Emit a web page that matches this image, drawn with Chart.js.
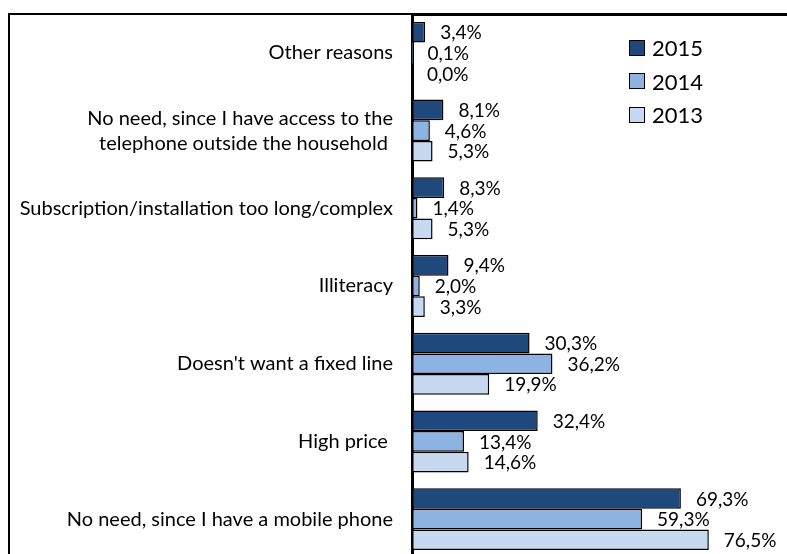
<!DOCTYPE html>
<html lang="en">
<head>
    <meta charset="UTF-8">
    <title>Reasons for not having a fixed telephone line</title>
    <style>
        html, body {
            margin: 0;
            padding: 0;
            width: 787px;
            height: 554px;
            overflow: hidden;
            background: #ffffff;
            font-family: 'Lato', sans-serif;
        }
        #wrap {
            position: relative;
            width: 800px;
            height: 558px;
        }
        #frame {
            position: absolute;
            left: 8px;
            top: 13px;
            width: 900px;
            height: 700px;
            border-left: 2px solid #000;
            border-top: 2px solid #000;
            box-sizing: border-box;
            pointer-events: none;
        }
        #legend {
            position: absolute;
            left: 629px;
            top: 31px;
        }
        .item {
            display: flex;
            align-items: center;
            height: 33.5px;
            font-size: 22px;
            color: #000;
        }
        .box {
            width: 14px;
            height: 14px;
            border: 1.5px solid #000;
            margin-right: 7px;
        }
    </style>
</head>
<body>
    <div id="wrap">
        <canvas id="reasonsChart"></canvas>
        <div id="frame"></div>
        <div id="legend"></div>
    </div>
    <script src="https://cdn.jsdelivr.net/npm/chart.js"></script>
    <script>
        // categories, top to bottom
        const reasons = [
            'Other reasons',
            ['No need, since I have access to the', 'telephone outside the household '],
            'Subscription/installation too long/complex',
            'Illiteracy',
            "Doesn't want a fixed line",
            'High price ',
            'No need, since I have a mobile phone'
        ];
        const years = ['2015', '2014', '2013'];
        const values2015 = [3.4, 8.1, 8.3, 9.4, 30.3, 32.4, 69.3];
        const values2014 = [0.1, 4.6, 1.4, 2.0, 36.2, 13.4, 59.3];
        const values2013 = [0.0, 5.3, 5.3, 3.3, 19.9, 14.6, 76.5];

        const colors = ['#1f497d', '#8db3e2', '#c6d9f1'];

        // percent labels next to each bar end
        const barLabels = {
            id: 'barLabels',
            afterDatasetsDraw(chart) {
                const ctx = chart.ctx;
                ctx.save();
                ctx.font = '19px Lato';
                ctx.fillStyle = '#000';
                ctx.textAlign = 'left';
                ctx.textBaseline = 'middle';
                chart.data.datasets.forEach((ds, i) => {
                    chart.getDatasetMeta(i).data.forEach((bar, j) => {
                        const txt = ds.data[j].toFixed(1).replace('.', ',') + '%';
                        ctx.fillText(txt, bar.x + 15, bar.y + 1);
                    });
                });
                ctx.restore();
            }
        };

        const ctx = document.getElementById('reasonsChart').getContext('2d');
        const reasonsChart = new Chart(ctx, {
            type: 'bar',
            data: {
                labels: reasons,
                datasets: [values2015, values2014, values2013].map((vals, i) => ({
                    label: years[i],
                    data: vals,
                    backgroundColor: colors[i],
                    borderColor: '#000',
                    borderWidth: c => (c.raw < 0.5 ? 0 : 1.5),
                    borderSkipped: false,
                    barPercentage: 1,
                    categoryPercentage: 0.797
                }))
            },
            options: {
                indexAxis: 'y',
                responsive: true,
                maintainAspectRatio: false,
                animation: false,
                layout: { padding: { top: 14, left: 8, right: 0, bottom: 0 } },
                plugins: {
                    legend: { display: false },
                    tooltip: { enabled: false }
                },
                scales: {
                    x: {
                        position: 'top',
                        min: 0,
                        max: 100,
                        ticks: { display: false },
                        grid: { display: false, drawTicks: false },
                        border: { display: true, color: '#000', width: 3 },
                        afterFit(scale) {
                            scale.height = 0;
                            scale.paddingLeft = 0;
                            scale.paddingRight = 0;
                        }
                    },
                    y: {
                        ticks: {
                            color: '#000',
                            padding: 19,
                            font: { family: 'Lato', size: 20, lineHeight: 1.25 }
                        },
                        grid: { display: false, drawTicks: false },
                        border: { display: true, color: '#000', width: 3 },
                        afterFit(scale) {
                            scale.width = 404;
                            scale.paddingTop = 0;
                            scale.paddingBottom = 0;
                        }
                    }
                }
            },
            plugins: [barLabels]
        });

        // legend in the top-right corner of the plot
        const legend = document.getElementById('legend');
        reasonsChart.data.datasets.forEach(ds => {
            const row = document.createElement('div');
            row.className = 'item';
            const box = document.createElement('span');
            box.className = 'box';
            box.style.background = ds.backgroundColor;
            row.appendChild(box);
            row.appendChild(document.createTextNode(ds.label));
            legend.appendChild(row);
        });
    </script>
</body>
</html>
